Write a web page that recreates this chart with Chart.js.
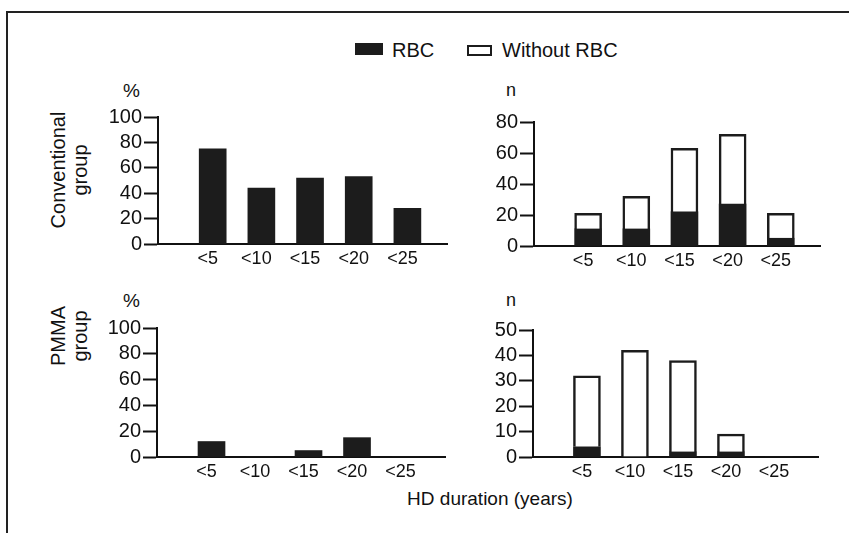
<!DOCTYPE html>
<html>
<head>
<meta charset="utf-8">
<script src="https://cdn.jsdelivr.net/npm/chart.js@4.4.1/dist/chart.umd.min.js"></script>
<style>
  body { margin: 0; width: 849px; height: 533px; background: #fff; position: relative; overflow: hidden;
         font-family: 'Liberation Sans', Arial, sans-serif; color: #111; }
  .frame { position: absolute; left: 6px; top: 11px; width: 860px; height: 521px;
           border-top: 2px solid #222; border-left: 2px solid #222; }
  canvas { position: absolute; }
  .txt { position: absolute; white-space: nowrap; }
  .row { position: absolute; width: 200px; height: 44px; line-height: 22px; font-size: 20px;
         text-align: center; transform: rotate(-90deg); }
  .box { position: absolute; box-sizing: border-box; }
</style>
</head>
<body>
<div class="frame"></div>

<div class="box" style="left:355px; top:43px; width:28px; height:12px; background:#1c1c1c;"></div>
<div class="txt" id="leg1" style="left:392px; top:40px; font-size:20px; line-height:20px;"></div>
<div class="box" style="left:467px; top:45px; width:25px; height:11px; border:2px solid #1c1c1c;"></div>
<div class="txt" id="leg2" style="left:502px; top:40px; font-size:20px; line-height:20px;"></div>

<div class="row" style="left:-31px; top:148px;">Conventional<br>group</div>
<div class="row" style="left:-31px; top:314px;">PMMA<br>group</div>

<div class="txt" style="left:123px; top:81px; font-size:19px; line-height:19px;">%</div>
<div class="txt" style="left:123px; top:291px; font-size:19px; line-height:19px;">%</div>
<div class="txt" style="left:506px; top:81px; font-size:18px; line-height:18px;">n</div>
<div class="txt" style="left:506px; top:291px; font-size:18px; line-height:18px;">n</div>

<div class="txt" style="left:390px; width:200px; text-align:center; top:489px; font-size:19px; line-height:19px;">HD duration (years)</div>

<canvas id="convPct" width="359" height="171" style="left:98px; top:103px;"></canvas>
<canvas id="convN" width="356" height="168" style="left:474px; top:108px;"></canvas>
<canvas id="pmmaPct" width="358" height="173" style="left:97px; top:314px;"></canvas>
<canvas id="pmmaN" width="355" height="171" style="left:473px; top:316px;"></canvas>

<script>
const categories = ['<5', '<10', '<15', '<20', '<25'];
const seriesNames = ['RBC', 'Without RBC'];

// Conventional group
const convPercent = [75, 44, 52, 53, 28];
const convRbc = [11, 11, 22, 27, 5];
const convWithout = [10, 21, 41, 45, 16];

// PMMA group
const pmmaPercent = [12, 0, 5, 15, 0];
const pmmaRbc = [4, 0, 2, 2, 0];
const pmmaWithout = [28, 42, 36, 7, 0];

const percentTicks = [0, 20, 40, 60, 80, 100];
const convCountTicks = [0, 20, 40, 60, 80];
const pmmaCountTicks = [0, 10, 20, 30, 40, 50];

Chart.defaults.font.family = "'Liberation Sans', Arial, sans-serif";
Chart.defaults.color = '#111';

document.getElementById('leg1').textContent = seriesNames[0];
document.getElementById('leg2').textContent = seriesNames[1];

function toPoints(values) {
  return values.map((v, i) => ({ x: i + 1, y: v }));
}

function rbcSet(values) {
  return { label: seriesNames[0], data: toPoints(values), backgroundColor: '#1c1c1c',
           borderWidth: 0, barThickness: 27 };
}

function withoutSet(values) {
  return { label: seriesNames[1], data: toPoints(values), backgroundColor: '#ffffff',
           borderColor: '#1c1c1c', borderWidth: 2.5, barThickness: 27 };
}

function makeChart(id, datasets, yTicks) {
  const ctx = document.getElementById(id).getContext('2d');
  return new Chart(ctx, {
    type: 'bar',
    data: { datasets: datasets },
    options: {
      responsive: false,
      animation: false,
      layout: { padding: { top: 14, right: 10, left: 0, bottom: 0 } },
      plugins: { legend: { display: false }, tooltip: { enabled: false } },
      scales: {
        x: {
          type: 'linear',
          stacked: true,
          min: 0.47,
          max: 5.22,
          grid: { display: false, drawTicks: false },
          border: { display: true, color: '#111', width: 2 },
          ticks: {
            stepSize: 1, includeBounds: false, autoSkip: false, maxRotation: 0,
            padding: 4, labelOffset: -5, font: { size: 18 },
            callback: v => categories[v - 1] ?? ''
          },
          afterFit: s => { s.height = 30; }
        },
        y: {
          stacked: true,
          min: yTicks[0],
          max: yTicks[yTicks.length - 1],
          grid: { drawOnChartArea: false, drawTicks: true, tickLength: 14, tickWidth: 2, tickColor: '#111' },
          border: { color: '#111', width: 2 },
          ticks: { stepSize: yTicks[1] - yTicks[0], autoSkip: false, padding: 2, font: { size: 20 } },
          afterFit: s => { s.width = 60; }
        }
      }
    }
  });
}

makeChart('convPct', [rbcSet(convPercent)], percentTicks);
makeChart('convN', [rbcSet(convRbc), withoutSet(convWithout)], convCountTicks);
makeChart('pmmaPct', [rbcSet(pmmaPercent)], percentTicks);
makeChart('pmmaN', [rbcSet(pmmaRbc), withoutSet(pmmaWithout)], pmmaCountTicks);
</script>
</body>
</html>
